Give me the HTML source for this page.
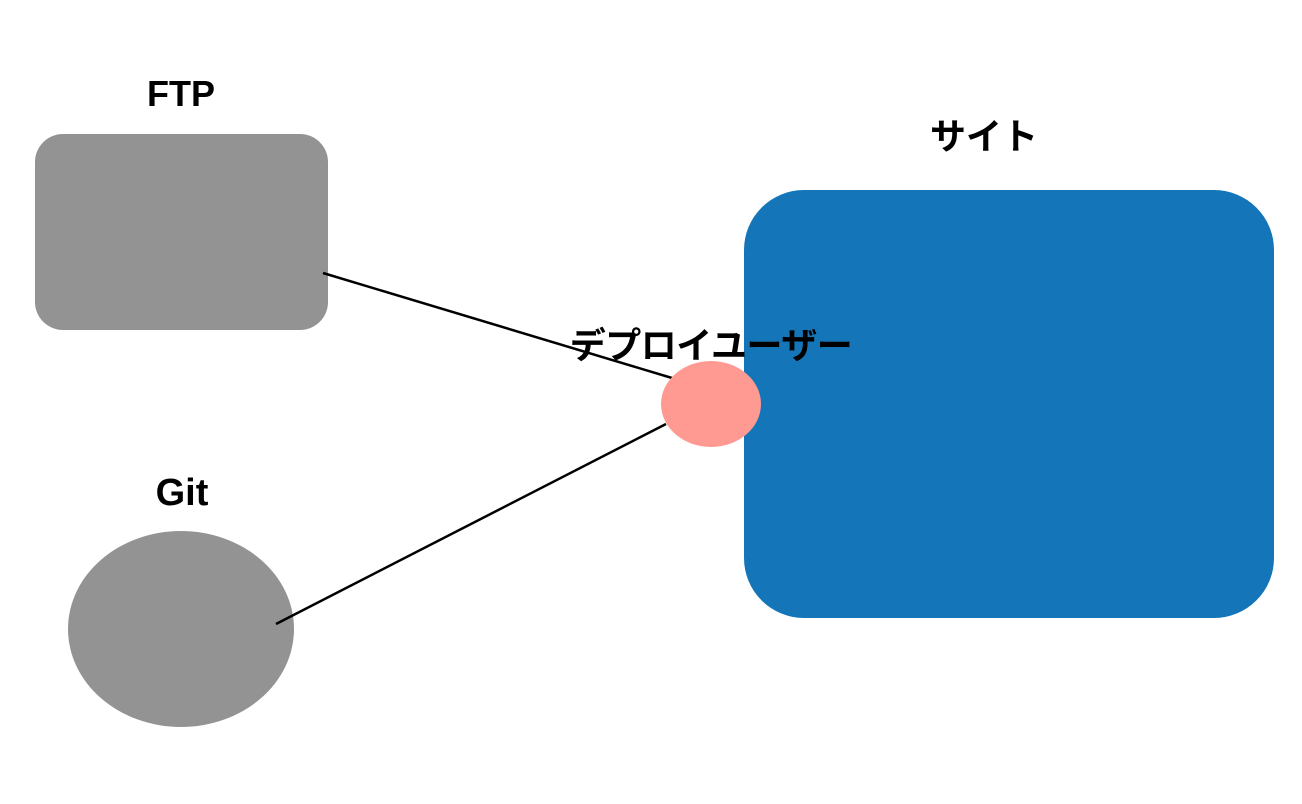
<!DOCTYPE html>
<html><head><meta charset="utf-8"><style>
html,body{margin:0;padding:0;background:#fff;}
svg{display:block;}
text{font-family:"Liberation Sans","Noto Sans CJK JP",sans-serif;font-weight:bold;fill:#000;}
</style></head><body>
<svg width="1302" height="804" viewBox="0 0 1302 804" xmlns="http://www.w3.org/2000/svg">
<rect x="35" y="134" width="293" height="196" rx="28" ry="28" fill="#939393"/>
<rect x="744" y="190" width="530" height="428" rx="60" ry="60" fill="#1476b8"/>
<ellipse cx="181" cy="629" rx="113" ry="98" fill="#939393"/>
<line x1="323" y1="273" x2="672" y2="378" stroke="#000" stroke-width="2.5"/>
<line x1="276" y1="624" x2="666" y2="424" stroke="#000" stroke-width="2.5"/>
<ellipse cx="711" cy="404" rx="50" ry="43" fill="#ff9a93"/>
<text x="181" y="106" font-size="36" text-anchor="middle">FTP</text>
<text x="984" y="149" font-size="36" text-anchor="middle">サイト</text>
<text x="711" y="358" font-size="36" text-anchor="middle" letter-spacing="-0.5">デプロイユーザー</text>
<text x="182" y="505" font-size="38" text-anchor="middle">Git</text>
</svg>
</body></html>
